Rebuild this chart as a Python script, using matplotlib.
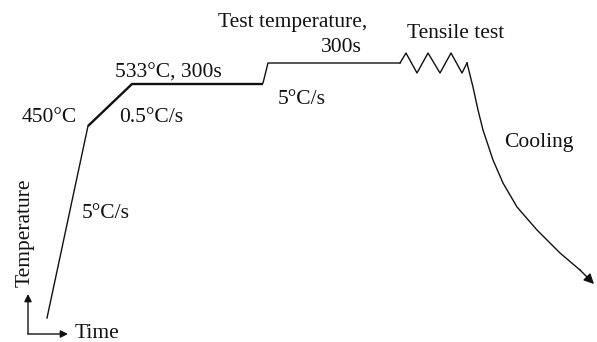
import matplotlib
matplotlib.use("Agg")
import matplotlib.pyplot as plt

plt.rcParams['font.family'] = ['Liberation Serif', 'DejaVu Serif']

# Schematic thermal schedule (arbitrary time / temperature units)
heat_time = [47, 88]
heat_temp = [24, 216]
slow_time = [88, 132, 263]
slow_temp = [216, 258, 258]
step_time = [263, 268, 400]
step_temp = [259, 279, 279]
tensile_time = [400, 406, 417, 428, 440, 451, 462, 467]
tensile_temp = [279, 289, 269, 289, 269, 289, 269, 279]
cool_time = [467, 473, 478, 483, 493, 503, 517, 537, 560, 580]
cool_temp = [279, 255, 232, 212, 182, 159, 135, 112, 89, 72]
cool_tip = (594, 58)

labels = [
    ("Test temperature,", 293, 320, 'center'),
    ("300s", 362, 294, 'right'),
    ("Tensile test", 407, 309, 'left'),
    ("5°C/s", 278, 242, 'left'),
    ("Cooling", 504, 200, 'left'),
    ("533°C, 300s", 115, 269, 'left'),
    ("450°C", 22, 225, 'left'),
    ("0.5°C/s", 119, 225, 'left'),
    ("5°C/s", 82, 129, 'left'),
    ("Time", 75, 8, 'left'),
]

fig = plt.figure(figsize=(5.97, 3.42), dpi=100)
ax = fig.add_axes([0, 0, 1, 1])
ax.set_xlim(0, 597)
ax.set_ylim(0, 342)
ax.axis('off')

ink = '#111111'
ax.plot(heat_time, heat_temp, color=ink, lw=1.0)
ax.plot(slow_time, slow_temp, color=ink, lw=1.7, solid_capstyle='butt')
ax.plot(step_time, step_temp, color=ink, lw=1.0)
ax.plot(tensile_time, tensile_temp, color=ink, lw=1.0)
ax.plot(cool_time, cool_temp, color=ink, lw=1.0, solid_joinstyle='round')
ax.annotate('', xy=cool_tip, xytext=(cool_time[-1], cool_temp[-1]),
            arrowprops=dict(arrowstyle='-|>', color=ink, lw=1.0,
                            mutation_scale=15, shrinkA=0, shrinkB=0))

# Axis glyph in the lower-left corner
ax.annotate('', xy=(28, 48), xytext=(28, 8),
            arrowprops=dict(arrowstyle='-|>', color=ink, lw=1.0,
                            mutation_scale=11, shrinkA=0, shrinkB=0))
ax.annotate('', xy=(68, 8), xytext=(28, 8),
            arrowprops=dict(arrowstyle='-|>', color=ink, lw=1.0,
                            mutation_scale=11, shrinkA=0, shrinkB=0))

for text, x, y, ha in labels:
    ax.text(x, y, text, ha=ha, va='center', fontsize=15.5, color=ink)
ax.text(25, 109, "Temperature", rotation=90, ha='center', va='center',
        fontsize=15.5, color=ink)

fig.savefig('out.png', dpi=100)
